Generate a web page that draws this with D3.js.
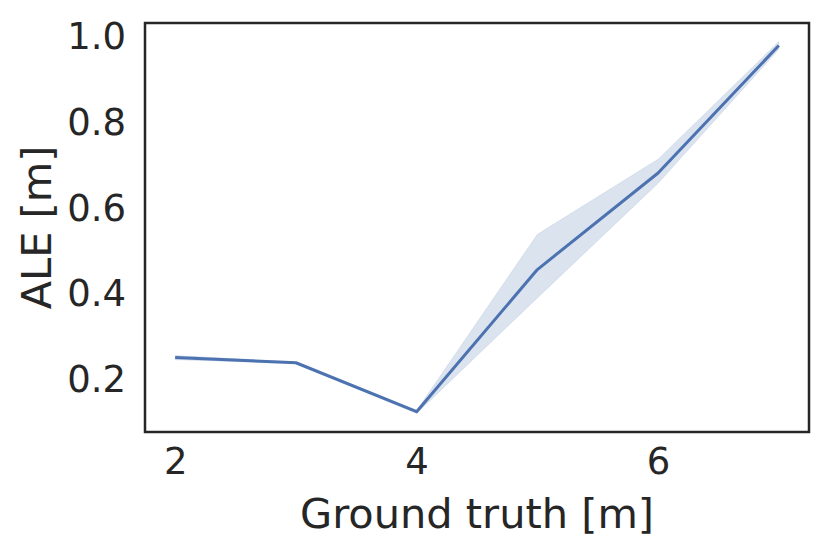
<!DOCTYPE html>
<html>
<head>
<meta charset="utf-8">
<script src="https://cdn.jsdelivr.net/npm/d3@7"></script>
<style>
  body { margin: 0; background: #fff; }
  text { font-family: "DejaVu Sans", sans-serif; fill: #262626; }
</style>
</head>
<body>
<svg id="chart" width="830" height="554"></svg>
<script>
// ground truth distance [m]
const groundTruth = [2, 3, 4, 5, 6, 7];
// mean ALE [m] and confidence band
const aleMean  = [0.252, 0.240, 0.126, 0.457, 0.682, 0.979];
const aleLower = [0.247, 0.238, 0.122, 0.391, 0.658, 0.970];
const aleUpper = [0.257, 0.242, 0.129, 0.539, 0.714, 0.988];
const xTicks = [2, 4, 6];
const yTicks = [0.2, 0.4, 0.6, 0.8, 1.0];

const box = {left: 145, right: 809, top: 23, bottom: 432};

let svg = d3.select("#chart");

// matplotlib style 5% margins
const xMin = d3.min(groundTruth), xMax = d3.max(groundTruth);
const xPad = (xMax - xMin) * 0.05;
const yMin = d3.min(aleLower), yMax = d3.max(aleUpper);
const yPad = (yMax - yMin) * 0.05;

const x = d3.scaleLinear().domain([xMin - xPad, xMax + xPad]).range([box.left, box.right]);
const y = d3.scaleLinear().domain([yMin - yPad, yMax + yPad]).range([box.bottom, box.top]);

const rows = groundTruth.map((g, i) => ({g: g, m: aleMean[i], lo: aleLower[i], hi: aleUpper[i]}));

svg.append("path")
    .datum(rows)
    .attr("fill", "#4c72b0")
    .attr("fill-opacity", 0.2)
    .attr("stroke", "#4c72b0")
    .attr("stroke-opacity", 0.12)
    .attr("d", d3.area().x(d => x(d.g)).y0(d => y(d.lo)).y1(d => y(d.hi)));

svg.append("path")
    .datum(rows)
    .attr("fill", "none")
    .attr("stroke", "#4c72b0")
    .attr("stroke-width", 3)
    .attr("stroke-linejoin", "round")
    .attr("d", d3.line().x(d => x(d.g)).y(d => y(d.m)));

// axes, no tick marks (seaborn white)
const xAxis = svg.append("g")
    .attr("transform", `translate(0,${box.bottom})`)
    .call(d3.axisBottom(x).tickValues(xTicks).tickSize(0).tickPadding(16).tickFormat(d3.format("d")));
xAxis.select(".domain").remove();
xAxis.selectAll("text").style("font-size", "37px").attr("dy", "0.71em");

const yAxis = svg.append("g")
    .attr("transform", `translate(${box.left},0)`)
    .call(d3.axisLeft(y).tickValues(yTicks).tickSize(0).tickPadding(19).tickFormat(d3.format(".1f")));
yAxis.select(".domain").remove();
yAxis.selectAll("text").style("font-size", "37px");

svg.append("rect")
    .attr("x", box.left)
    .attr("y", box.top)
    .attr("width", box.right - box.left)
    .attr("height", box.bottom - box.top)
    .attr("fill", "none")
    .attr("stroke", "#262626")
    .attr("stroke-width", 2.5);

svg.append("text")
    .attr("x", (box.left + box.right) / 2)
    .attr("y", 528)
    .attr("text-anchor", "middle")
    .style("font-size", "41.5px")
    .text("Ground truth [m]");

svg.append("text")
    .attr("transform", `translate(51,${(box.top + box.bottom) / 2}) rotate(-90)`)
    .attr("text-anchor", "middle")
    .style("font-size", "41.5px")
    .text("ALE [m]");
</script>
</body>
</html>
